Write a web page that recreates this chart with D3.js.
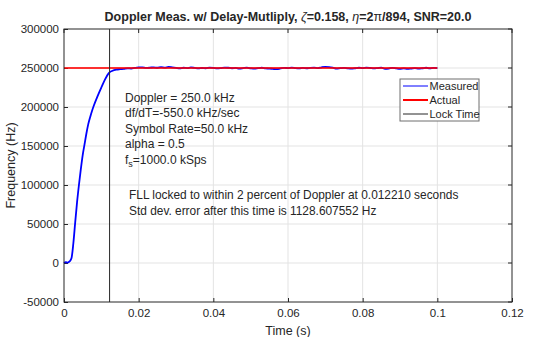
<!DOCTYPE html>
<html>
<head>
<meta charset="utf-8">
<script src="https://cdnjs.cloudflare.com/ajax/libs/d3/7.8.5/d3.min.js"></script>
<style>
  body { margin: 0; background: #fff; }
  text { font-family: "Liberation Sans", Arial, sans-serif; fill: #262626; }
</style>
</head>
<body>
<script>
// FLL doppler measurement vs. actual, with lock time marker

var width = 543, height = 337;
var margin = {top: 29, right: 31, bottom: 35, left: 64};

// measured doppler (Hz) over time (s)
var measTime = [0, 0.0005, 0.001, 0.0015, 0.002, 0.0025, 0.003, 0.0035, 0.004, 0.0045,
  0.005, 0.0055, 0.006, 0.0065, 0.007, 0.0075, 0.008, 0.009, 0.010, 0.011,
  0.012, 0.013, 0.014, 0.015, 0.016, 0.017, 0.018, 0.019, 0.020, 0.021,
  0.022, 0.023, 0.024, 0.025, 0.026, 0.027, 0.028, 0.029, 0.030, 0.031,
  0.032, 0.033, 0.034, 0.035, 0.036, 0.037, 0.038, 0.039, 0.040, 0.041,
  0.042, 0.043, 0.044, 0.045, 0.046, 0.047, 0.048, 0.049, 0.050, 0.051,
  0.052, 0.053, 0.054, 0.055, 0.056, 0.057, 0.058, 0.059, 0.060, 0.061,
  0.062, 0.063, 0.064, 0.065, 0.066, 0.067, 0.068, 0.069, 0.070, 0.071,
  0.072, 0.073, 0.074, 0.075, 0.076, 0.077, 0.078, 0.079, 0.080, 0.081,
  0.082, 0.083, 0.084, 0.085, 0.086, 0.087, 0.088, 0.089, 0.090, 0.091,
  0.092, 0.093, 0.094, 0.095, 0.096, 0.097, 0.098, 0.099, 0.100];
var measFreq = [0, 1200, 600, 2000, 6000, 25000, 52000, 78000, 100000, 120000,
  138000, 152000, 166000, 178000, 187000, 195000, 202000, 214000, 225000, 235500,
  243500, 246500, 247900, 248500, 248900, 249600, 249300, 250200, 250800, 250900,
  250100, 250400, 250900, 250300, 251100, 250500, 251400, 250800, 250200, 249600,
  250300, 249900, 250700, 250100, 249400, 250000, 249700, 250500, 250200, 249500,
  249900, 250600, 250300, 249700, 250100, 249200, 249800, 250400, 249600, 249100,
  249800, 250300, 249400, 249300, 248800, 248500, 249400, 250200, 249800, 250500,
  249900, 249600, 250100, 249700, 250200, 250400, 249800, 250900, 251500, 251200,
  250400, 249300, 249800, 250200, 249500, 249100, 249700, 250300, 249800, 250400,
  250000, 249400, 249900, 250500, 248900, 249300, 250200, 249500, 248900, 249400,
  248800, 249300, 249900, 249200, 249700, 250300, 249600, 250100, 249800];

var actualFreq = 250000;   // Doppler = 250.0 kHz
var actualEnd = 0.1;
var lockTime = 0.012210;

var xTicks = [0, 0.02, 0.04, 0.06, 0.08, 0.1, 0.12];
var yTicks = [-50000, 0, 50000, 100000, 150000, 200000, 250000, 300000];

var infoLines = ["Doppler = 250.0 kHz", "df/dT=-550.0 kHz/sec", "Symbol Rate=50.0 kHz", "alpha = 0.5"];
var lockLines = ["FLL locked to within 2 percent of Doppler at 0.012210 seconds",
  "Std dev. error after this time is 1128.607552 Hz"];
var legendNames = ["Measured", "Actual", "Lock Time"];
var legendColors = ["#0000ff", "#ff0000", "#262626"];
var legendWidths = [1, 2, 1];

var svg = d3.select("body").append("svg")
  .attr("width", width).attr("height", height);

var x = d3.scaleLinear().domain([0, 0.12]).range([margin.left, width - margin.right]);
var y = d3.scaleLinear().domain([-50000, 300000]).range([height - margin.bottom, margin.top]);

// grid
svg.append("g").selectAll("line").data(xTicks.slice(1, -1)).enter().append("line")
  .attr("x1", function(d) { return x(d); }).attr("x2", function(d) { return x(d); })
  .attr("y1", y(-50000)).attr("y2", y(300000))
  .attr("stroke", "#e3e3e3").attr("stroke-width", 1);
svg.append("g").selectAll("line").data(yTicks.slice(1, -1)).enter().append("line")
  .attr("x1", x(0)).attr("x2", x(0.12))
  .attr("y1", function(d) { return y(d); }).attr("y2", function(d) { return y(d); })
  .attr("stroke", "#e3e3e3").attr("stroke-width", 1);

// axes
var xAxis = d3.axisBottom(x).tickValues(xTicks).tickSize(-4).tickPadding(7)
  .tickFormat(function(d) { return d === 0 ? "0" : String(+d.toFixed(2)); });
var yAxis = d3.axisLeft(y).tickValues(yTicks).tickSize(-4).tickPadding(5)
  .tickFormat(function(d) { return String(d); });

var gx = svg.append("g").attr("transform", "translate(0," + y(-50000) + ")").call(xAxis);
var gy = svg.append("g").attr("transform", "translate(" + x(0) + ",0)").call(yAxis);
[gx, gy].forEach(function(g) {
  g.selectAll("text").style("font-size", "11.5px").attr("fill", "#333");
  g.selectAll("line").attr("stroke", "#262626");
  g.select(".domain").remove();
});

// top/right ticks
svg.append("g").selectAll("line").data(xTicks).enter().append("line")
  .attr("x1", function(d) { return x(d); }).attr("x2", function(d) { return x(d); })
  .attr("y1", y(300000)).attr("y2", y(300000) + 4).attr("stroke", "#262626");
svg.append("g").selectAll("line").data(yTicks).enter().append("line")
  .attr("x1", x(0.12)).attr("x2", x(0.12) - 4)
  .attr("y1", function(d) { return y(d); }).attr("y2", function(d) { return y(d); })
  .attr("stroke", "#262626");

// measured line
var measData = measTime.map(function(t, i) { return [t, measFreq[i]]; });
var line = d3.line().x(function(d) { return x(d[0]); }).y(function(d) { return y(d[1]); })
  .curve(d3.curveMonotoneX);
svg.append("path").datum(measData).attr("d", line)
  .attr("fill", "none").attr("stroke", "#0000ff").attr("stroke-width", 1.8)
  .attr("stroke-linejoin", "round");

// actual doppler
svg.append("line")
  .attr("x1", x(0)).attr("x2", x(actualEnd))
  .attr("y1", y(actualFreq)).attr("y2", y(actualFreq))
  .attr("stroke", "#ff0000").attr("stroke-width", 1.8).attr("opacity", 0.8);

// lock time marker
svg.append("line")
  .attr("x1", x(lockTime)).attr("x2", x(lockTime))
  .attr("y1", y(-50000)).attr("y2", y(300000))
  .attr("stroke", "#262626").attr("stroke-width", 1);

// box
svg.append("rect")
  .attr("x", x(0)).attr("y", y(300000))
  .attr("width", x(0.12) - x(0)).attr("height", y(-50000) - y(300000))
  .attr("fill", "none").attr("stroke", "#262626").attr("stroke-width", 1);

// info text
var info = svg.append("text").attr("x", 125).attr("y", 102).style("font-size", "12px");
infoLines.forEach(function(s, i) {
  info.append("tspan").attr("x", 125).attr("y", 102 + i * 15.4).text(s);
});
var fs = svg.append("text").attr("x", 125).attr("y", 102 + 4 * 15.4).style("font-size", "12px");
fs.append("tspan").text("f");
fs.append("tspan").attr("dy", 3).style("font-size", "9px").text("s");
fs.append("tspan").attr("dy", -3).text("=1000.0 kSps");

lockLines.forEach(function(s, i) {
  svg.append("text").attr("x", 129).attr("y", 199 + i * 16).style("font-size", "11.9px").text(s);
});

// legend
var lg = svg.append("g").attr("transform", "translate(400,79)");
lg.append("rect").attr("width", 79).attr("height", 42)
  .attr("fill", "#fff").attr("stroke", "#6e6e6e").attr("stroke-width", 1);
legendNames.forEach(function(name, i) {
  var yy = 7 + i * 14;
  lg.append("line").attr("x1", 3).attr("x2", 28).attr("y1", yy).attr("y2", yy)
    .attr("stroke", legendColors[i]).attr("stroke-width", legendWidths[i]);
  lg.append("text").attr("x", 29.5).attr("y", yy + 4).style("font-size", "11px").text(name);
});

// title
var title = svg.append("text").attr("x", (x(0) + x(0.12)) / 2).attr("y", 21)
  .attr("text-anchor", "middle").style("font-size", "12.5px").style("font-weight", "bold");
title.append("tspan").text("Doppler Meas. w/ Delay-Mutliply, ");
title.append("tspan").style("font-style", "italic").style("font-weight", "normal").text("ζ");
title.append("tspan").text("=0.158, ");
title.append("tspan").style("font-style", "italic").style("font-weight", "normal").text("η");
title.append("tspan").text("=2");
title.append("tspan").style("font-weight", "normal").text("π");
title.append("tspan").text("/894, SNR=20.0");

// axis labels
svg.append("text").attr("x", (x(0) + x(0.12)) / 2).attr("y", 335)
  .attr("text-anchor", "middle").style("font-size", "12.5px").text("Time (s)");
svg.append("text").attr("transform", "translate(15," + ((y(-50000) + y(300000)) / 2) + ") rotate(-90)")
  .attr("text-anchor", "middle").style("font-size", "12.5px").text("Frequency (Hz)");
</script>
</body>
</html>
